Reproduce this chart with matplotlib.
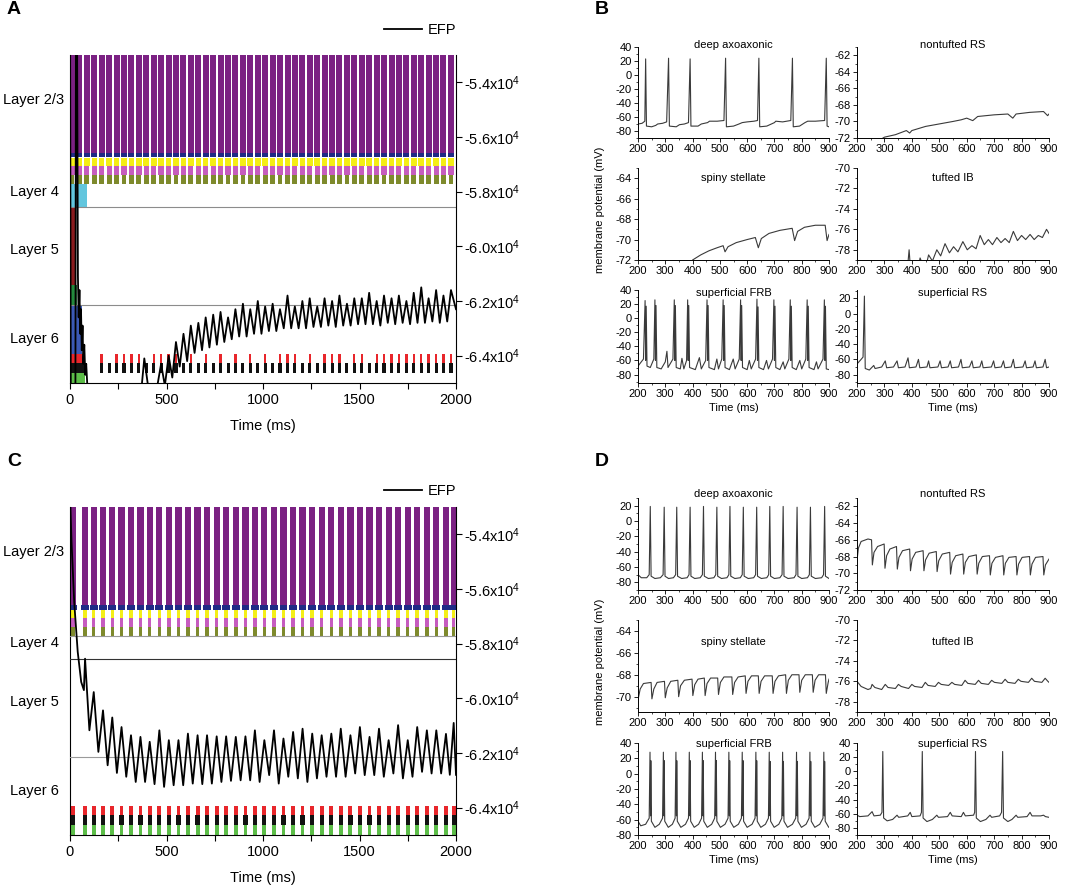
import numpy as np
import matplotlib
matplotlib.use("Agg")
import matplotlib.pyplot as plt
from matplotlib.ticker import MultipleLocator, FuncFormatter
from matplotlib.lines import Line2D

plt.rcParams['font.family'] = ['Liberation Sans', 'DejaVu Sans']
plt.rcParams['mathtext.default'] = 'regular'
plt.rcParams['axes.unicode_minus'] = False

W, H = 1084, 890

# ---------------- raster populations (top to bottom) ----------------
pop_sizes = [1000, 50, 90, 90, 90, 240, 800, 200, 500, 100, 100, 100]
pop_colors = ['#7b2183', '#1f2a86', '#f4ee16', '#c65cbf', '#7e8a2c', '#62c6de',
              '#8a1b1e', '#23883c', '#3b59b5', '#e8262b', '#111111', '#5cbd48']

# burst times (ms) read from the rasters
a_bursts = [10, 48, 87, 126, 164, 203, 241, 280, 318, 357,
            395, 434, 472, 511, 549, 588, 626, 665, 703, 742,
            780, 819, 857, 896, 934, 973, 1011, 1050, 1088, 1127,
            1165, 1204, 1242, 1281, 1319, 1358, 1396, 1435, 1473, 1512,
            1550, 1589, 1627, 1666, 1704, 1743, 1781, 1820, 1858, 1897,
            1935, 1974]
a_red_cols = [164, 241, 280, 318, 357, 434, 472, 511, 549, 626, 703, 780, 857,
              934, 1011, 1088, 1127, 1165, 1242, 1319, 1358, 1396, 1473, 1512,
              1589, 1627, 1666, 1704, 1743, 1781, 1820, 1858, 1897, 1935, 1974]
# early activity (ms) per population in A, 0 = none
a_early_end = [0, 0, 0, 0, 0, 90, 30, 35, 60, 80, 88, 80]

c_bursts = [16, 78, 123, 171, 219, 267, 316, 365, 413, 463, 512,
            562, 611, 661, 710, 760, 809, 859, 909, 958, 1007,
            1057, 1106, 1156, 1205, 1255, 1304, 1354, 1403, 1453, 1502,
            1552, 1601, 1651, 1700, 1750, 1799, 1849, 1898, 1948, 1988]

# ---------------- EFP traces ----------------
efp_a_pre_t = [0, 4, 28, 31, 36, 41, 45, 49, 53, 57, 61, 65, 69, 74, 79, 84,
               92, 120, 250, 365, 385, 408, 430, 455]
efp_a_pre_v = [-51000, -65600, -65600, -51000, -51000, -61100, -62600, -61600,
               -63200, -62300, -63800, -62900, -64300, -63600, -64700, -64300,
               -65400, -67000, -68000, -65600, -64100, -65300, -65400, -65000]
efp_a_peak_v = [-64300, -64000, -63500, -63200, -62900, -62800, -62600, -62500, -62400, -62600,
                -62300, -62100, -62300, -62000, -62200, -62100, -62300, -61800, -62200, -62000,
                -61900, -62200, -61900, -62000, -61800, -62100, -61900, -61900, -61700, -62000,
                -61800, -61900, -61800, -62000, -61700, -61500, -61900, -61600, -61800, -61600]
efp_a_trough_v = [-65100, -64800, -64400, -64200, -63900, -63800, -63700, -63600, -63500, -63400,
                  -63300, -63300, -63200, -63200, -63100, -63100, -63000, -63000, -63000, -63000,
                  -62950, -62950, -62900, -62950, -62900, -62900, -62850, -62850, -62850, -62900,
                  -62800, -62850, -62800, -62850, -62800, -62800, -62750, -62800, -62750]
efp_a_end = (2000, -62300)

efp_c_pre_t = [0, 8, 22, 40, 58, 72]
efp_c_pre_v = [-52500, -54300, -56500, -58300, -59400, -59700]
efp_c_peak_v = [-58550, -59770, -60440, -60700, -61050, -61350, -61410, -61590, -61170, -61530,
                -61530, -61290, -61350, -61350, -61390, -61390, -61410, -61390, -61170, -61530,
                -61170, -61470, -61230, -61110, -61290, -61350, -61290, -61110, -61350, -61050,
                -61410, -61110, -61530, -60980, -61530, -61050, -61170, -61170, -61300, -60900]
efp_c_trough_v = [-61170, -61960, -62450, -62730, -62870, -63060, -63060, -63140, -63240, -63180,
                  -63180, -63120, -63140, -63120, -63060, -63020, -63000, -63000, -63060, -62810,
                  -63120, -62870, -62930, -63060, -62930, -62870, -62870, -62870, -62750, -62810,
                  -62810, -62870, -62750, -62930, -62870, -62690, -62750, -62750, -62800]
efp_c_end = (2000, -62800)

# ---------------- single cell traces (t ms, V mV) ----------------
b_axo = [(200, -70), (215, -69), (225, -66), (228, 23), (231, -73), (250, -74), (265, -72), (272, -70),
         (290, -69), (305, -67), (312, 24), (315, -73), (340, -74), (352, -71), (370, -70), (385, -68),
         (391, 23), (394, -73), (420, -73), (432, -70), (455, -68), (462, -66), (490, -66), (515, -65),
         (521, 24), (524, -74), (550, -73), (570, -70), (582, -68), (600, -67), (625, -66), (638, -65),
         (643, 24), (646, -74), (672, -73), (700, -68), (705, -66), (730, -67), (760, -65), (766, 24),
         (769, -74), (792, -73), (812, -68), (822, -66), (850, -66), (884, -65), (890, 24), (893, -73),
         (900, -74)]
b_ntrs = [(200, -72.1), (290, -72.1), (300, -71.9), (340, -71.6), (380, -71.1), (392, -71.4),
          (400, -71.1), (450, -70.6), (500, -70.3), (550, -70.0), (580, -69.8), (600, -69.6),
          (622, -69.9), (640, -69.4), (700, -69.2), (750, -69.1), (768, -69.6), (780, -69.1),
          (830, -68.9), (880, -68.8), (895, -69.3), (900, -69.1)]
b_ss = [(200, -72.3), (395, -72.3), (400, -72.0), (430, -71.5), (460, -71.1), (490, -70.8),
        (512, -70.6), (519, -71.2), (530, -70.7), (560, -70.3), (600, -70.0), (630, -69.8),
        (641, -70.8), (652, -69.9), (680, -69.4), (720, -69.1), (765, -68.9), (774, -70.1),
        (785, -69.2), (810, -68.8), (850, -68.6), (886, -68.6), (893, -70.1), (900, -69.5)]
b_tib = [(200, -79.5), (385, -79.5), (390, -78.0), (394, -79.5), (425, -79.5), (430, -78.8),
         (440, -79.5), (455, -79.2), (461, -78.5), (475, -79.1), (491, -78.0), (505, -78.6),
         (521, -77.4), (537, -78.3), (552, -77.7), (568, -78.2), (586, -77.2), (602, -78.0),
         (619, -77.6), (634, -77.9), (649, -76.6), (664, -77.5), (679, -77.0), (694, -77.5),
         (710, -76.8), (725, -77.3), (740, -76.9), (755, -77.3), (770, -76.2), (785, -77.1),
         (800, -76.6), (815, -77.0), (831, -76.5), (846, -77.0), (861, -76.6), (876, -76.8),
         (891, -76.0), (900, -76.4)]
b_frb = [(200, -68), (220, -58), (226, 25), (228, -60), (230, 17), (233, -68), (245, -70), (258, -58),
         (262, 26), (264, -60), (266, 18), (269, -70), (285, -72), (300, -62), (306, -47), (310, -70),
         (328, -58), (333, 26), (335, -60), (337, 18), (340, -70), (355, -72), (361, -57), (368, -72),
         (378, -60), (382, 26), (384, -60), (386, 18), (389, -70), (410, -73), (425, -56), (432, -72),
         (448, -60), (453, 26), (455, -60), (457, 18), (460, -70), (480, -73), (489, -58), (495, -72),
         (507, -58), (512, 26), (514, -60), (516, 18), (519, -70), (535, -73), (549, -58), (556, -72),
         (571, -58), (576, 26), (578, -60), (580, 18), (583, -70), (600, -73), (608, -60), (615, -72),
         (631, -58), (636, 27), (638, -60), (640, 16), (643, -70), (660, -73), (671, -60), (678, -72),
         (693, -58), (698, 26), (700, -60), (702, 17), (705, -70), (720, -73), (732, -62), (738, -72),
         (753, -58), (758, 26), (760, -60), (762, 17), (765, -70), (780, -73), (793, -60), (800, -72),
         (815, -58), (820, 26), (822, -60), (824, 17), (827, -70), (845, -73), (854, -62), (860, -72),
         (878, -58), (883, 26), (885, -60), (887, 17), (890, -72), (900, -73)]
b_srs = [(200, -66), (215, -60), (222, -57), (227, 23), (230, -72), (245, -74), (261, -68), (266, -72),
         (290, -70), (303, -62), (308, -71), (333, -70), (346, -62), (351, -71), (375, -70), (386, -58),
         (391, -71), (415, -70), (424, -60), (429, -71), (455, -70), (461, -62), (466, -71), (495, -70),
         (503, -62), (508, -71), (532, -70), (540, -62), (545, -71), (570, -70), (579, -60), (584, -71),
         (610, -70), (619, -62), (624, -71), (648, -70), (655, -62), (660, -71), (690, -70), (698, -62),
         (703, -71), (726, -70), (734, -62), (739, -71), (762, -70), (770, -60), (775, -71), (805, -70),
         (813, -62), (818, -71), (842, -70), (849, -62), (854, -71), (878, -70), (886, -60), (891, -71),
         (900, -70)]

d_axo = [(200, -70), (212, -74), (232, -74), (241, -70), (245, 19), (248, -72), (262, -75), (282, -74),
         (292, -70), (296, 18), (299, -72), (312, -75), (330, -74), (338, -70), (342, 18), (345, -72),
         (360, -75), (380, -74), (387, -70), (391, 18), (394, -72), (408, -75), (428, -74), (436, -70),
         (440, 19), (443, -72), (458, -75), (478, -74), (485, -70), (489, 18), (492, -72), (506, -75),
         (526, -74), (533, -70), (537, 19), (540, -72), (555, -75), (575, -74), (582, -70), (586, 18),
         (589, -72), (604, -75), (624, -74), (631, -70), (635, 18), (638, -72), (652, -75), (672, -74),
         (679, -70), (683, 19), (686, -72), (700, -75), (720, -74), (728, -70), (732, 19), (735, -72),
         (750, -75), (772, -74), (779, -70), (783, 18), (786, -72), (800, -75), (821, -74), (828, -70),
         (832, 18), (835, -72), (850, -75), (873, -74), (880, -70), (884, 19), (887, -72), (900, -75)]
d_ntrs = [(200, -68.5), (205, -67), (215, -66.2), (240, -65.9), (253, -66), (256, -69.0), (262, -67.5),
          (275, -66.8), (299, -66.5), (302, -69.4), (308, -67.9), (320, -67.1), (344, -66.8), (347, -69.5),
          (353, -68.1), (366, -67.3), (392, -67.1), (395, -69.7), (401, -68.3), (414, -67.5), (441, -67.3),
          (444, -69.7), (450, -68.4), (463, -67.6), (489, -67.4), (492, -69.8), (498, -68.5), (511, -67.7),
          (538, -67.5), (541, -70.1), (547, -68.7), (560, -67.9), (586, -67.7), (589, -70.1), (595, -68.7),
          (608, -68.0), (635, -67.8), (638, -70.1), (644, -68.8), (657, -68.0), (683, -67.9), (686, -70.2),
          (692, -68.8), (705, -68.1), (732, -67.9), (735, -70.2), (741, -68.8), (754, -68.1), (780, -68.0),
          (783, -70.2), (789, -68.9), (802, -68.1), (829, -68.0), (832, -70.2), (838, -68.9), (851, -68.1),
          (878, -68.0), (881, -70.2), (887, -69.0), (900, -68.3)]
d_ss = [(200, -70.3), (208, -69.3), (220, -68.8), (248, -68.7), (251, -70.2), (258, -69.3), (270, -68.7),
        (297, -68.6), (300, -70.1), (307, -69.2), (320, -68.6), (346, -68.5), (349, -70.0), (356, -69.0),
        (370, -68.5), (398, -68.4), (401, -69.9), (408, -68.9), (420, -68.4), (443, -68.3), (446, -69.9),
        (453, -68.8), (466, -68.3), (492, -68.3), (495, -69.8), (502, -68.7), (515, -68.2), (544, -68.2),
        (547, -69.8), (554, -68.7), (567, -68.2), (593, -68.1), (596, -69.7), (603, -68.6), (616, -68.1),
        (641, -68.1), (644, -69.7), (651, -68.6), (664, -68.1), (692, -68.1), (695, -69.7), (702, -68.6),
        (715, -68.1), (741, -68.0), (744, -69.7), (751, -68.5), (764, -68.0), (790, -68.0), (793, -69.6),
        (800, -68.5), (813, -68.0), (839, -68.0), (842, -69.6), (849, -68.5), (862, -68.0), (887, -68.0),
        (890, -69.7), (897, -68.7), (900, -68.4)]
d_tib = [(200, -76.0), (215, -76.5), (240, -76.8), (250, -76.7), (255, -76.3), (265, -76.6), (290, -76.8),
         (303, -76.3), (313, -76.6), (340, -76.7), (351, -76.3), (361, -76.5), (388, -76.7), (400, -76.3),
         (410, -76.5), (437, -76.6), (449, -76.1), (459, -76.4), (485, -76.5), (497, -76.1), (507, -76.3),
         (534, -76.4), (546, -76.1), (556, -76.3), (582, -76.4), (594, -75.9), (604, -76.2), (631, -76.3),
         (643, -75.9), (653, -76.2), (679, -76.3), (691, -75.9), (701, -76.1), (728, -76.2), (740, -75.8),
         (750, -76.1), (776, -76.2), (788, -75.8), (798, -76.0), (825, -76.1), (837, -75.7), (847, -76.0),
         (874, -76.1), (886, -75.7), (896, -76.0), (900, -76.1)]
d_frb = [(200, -62), (210, -68), (228, -66), (241, -58), (244, 28), (246, -55), (247, 17), (249, -62),
         (262, -70), (278, -66), (290, -58), (293, 28), (295, -55), (296, 17), (298, -62), (311, -70),
         (326, -66), (336, -58), (339, 28), (341, -55), (342, 17), (344, -62), (357, -70), (374, -66),
         (385, -58), (388, 28), (390, -55), (391, 17), (393, -62), (406, -70), (422, -66), (433, -58),
         (436, 28), (438, -55), (439, 17), (441, -62), (454, -70), (470, -66), (481, -58), (484, 28),
         (486, -55), (487, 17), (489, -62), (502, -70), (519, -66), (530, -58), (533, 28), (535, -55),
         (536, 17), (538, -62), (551, -70), (568, -66), (579, -58), (582, 28), (584, -55), (585, 17),
         (587, -62), (600, -70), (618, -66), (629, -58), (632, 28), (634, -55), (635, 17), (637, -62),
         (650, -70), (667, -66), (678, -58), (681, 28), (683, -55), (684, 16), (686, -62), (699, -70),
         (716, -66), (727, -58), (730, 28), (732, -55), (733, 16), (735, -62), (748, -70), (766, -66),
         (778, -58), (781, 28), (783, -55), (784, 16), (786, -62), (799, -70), (816, -66), (827, -58),
         (830, 28), (832, -55), (833, 16), (835, -62), (848, -70), (866, -66), (878, -58), (881, 28),
         (883, -55), (884, 16), (886, -62), (899, -70), (900, -70)]
d_srs = [(200, -62), (210, -64), (240, -63), (255, -57), (262, -63), (285, -62), (291, -58), (294, 28),
         (297, -66), (310, -70), (330, -68), (346, -62), (352, -65), (385, -63), (394, -58), (400, -64),
         (430, -63), (435, -58), (438, 28), (441, -66), (455, -71), (475, -68), (491, -62), (497, -65),
         (530, -64), (540, -58), (547, -63), (580, -64), (588, -58), (595, -63), (625, -62), (629, -58),
         (632, 28), (635, -66), (650, -71), (670, -68), (685, -62), (691, -65), (720, -63), (727, -58),
         (731, 28), (734, -66), (750, -71), (765, -68), (780, -62), (786, -65), (820, -64), (831, -58),
         (838, -63), (870, -63), (880, -62), (887, -64), (900, -65)]

cell_titles = ['deep axoaxonic', 'nontufted RS', 'spiny stellate', 'tufted IB',
               'superficial FRB', 'superficial RS']
b_traces = [b_axo, b_ntrs, b_ss, b_tib, b_frb, b_srs]
d_traces = [d_axo, d_ntrs, d_ss, d_tib, d_frb, d_srs]
b_ylims = [(-90, 40), (-72, -61), (-72, -63), (-79, -70), (-92, 40), (-91, 31)]
d_ylims = [(-90, 30), (-72, -61), (-71.4, -63), (-79, -70), (-80, 40), (-90, 40)]
ysteps = [20, 2, 2, 2, 20, 20]


def px_axes(fig, x0, y0, x1, y1):
    return fig.add_axes([x0 / W, 1 - y1 / H, (x1 - x0) / W, (y1 - y0) / H])


def efp_cycles(peak_t, peak_v, trough_v):
    t, v = [], []
    for i in range(len(peak_t)):
        t.append(peak_t[i])
        v.append(peak_v[i])
        if i + 1 < len(peak_t) and i < len(trough_v):
            t.append((peak_t[i] + peak_t[i + 1]) / 2)
            v.append(trough_v[i])
    return t, v


def raster_panel(fig, box, pop_bursts, widths, early_end, hlines, efp_t, efp_v, legend_y):
    ax = px_axes(fig, *box)
    starts = np.concatenate([[0], np.cumsum(pop_sizes)[:-1]])
    for i in range(len(pop_sizes)):
        if len(pop_bursts[i]) > 0:
            ax.bar(pop_bursts[i], pop_sizes[i], width=widths[i], bottom=starts[i],
                   color=pop_colors[i], linewidth=0, align='center')
        if early_end[i] > 0:
            ax.bar(early_end[i] / 2, pop_sizes[i], width=early_end[i], bottom=starts[i],
                   color=pop_colors[i], linewidth=0)
    for yv, col in hlines:
        ax.axhline(yv, color=col, lw=0.8, zorder=3)
    ax.set_xlim(0, 2000)
    ax.set_ylim(sum(pop_sizes), 0)
    ax.set_yticks([])
    ax.set_xticks([0, 500, 1000, 1500, 2000])
    ax.xaxis.set_minor_locator(MultipleLocator(250))
    ax.tick_params(axis='x', which='both', direction='out', length=4, width=0.8, labelsize=10.5, pad=3)
    ax.spines['top'].set_visible(False)
    ax.spines['right'].set_visible(False)
    ax.spines['left'].set_linewidth(0.8)
    ax.spines['bottom'].set_linewidth(0.8)
    ax.set_xlabel('Time (ms)', fontsize=10.5, labelpad=9)

    ax2 = ax.twinx()
    ax2.plot(efp_t, efp_v, color='black', lw=1.3)
    ax2.set_ylim(-65000, -53000)
    ax2.set_yticks([-54000, -56000, -58000, -60000, -62000, -64000])
    ax2.yaxis.set_major_formatter(FuncFormatter(lambda v, p: '%.1fx10$^4$' % (v / 1e4)))
    ax2.tick_params(axis='y', direction='out', length=4, width=0.8, labelsize=10.5, pad=2)
    for s in ['top', 'left', 'bottom']:
        ax2.spines[s].set_visible(False)
    ax2.spines['right'].set_linewidth(0.8)
    handle = Line2D([], [], color='black', lw=1.3)
    ax2.legend([handle], ['EFP'], loc='center right', frameon=False, fontsize=10.5,
               handlelength=2.6, handletextpad=0.4, borderpad=0, borderaxespad=0,
               bbox_to_anchor=(box[2] / W, 1 - legend_y / H), bbox_transform=fig.transFigure)
    return ax


def trace_panel(fig, top, traces, ylims, title_offs):
    cols = [(638, 829), (857, 1049)]
    for k in range(6):
        r, c = divmod(k, 2)
        x0, x1 = cols[c]
        y0, y1 = top[r]
        ax = px_axes(fig, x0, y0, x1, y1)
        t, v = zip(*traces[k])
        ax.plot(t, v, color='#3a3a3a', lw=0.8)
        ax.set_xlim(200, 900)
        ax.set_ylim(*ylims[k])
        ax.xaxis.set_major_locator(MultipleLocator(100))
        ax.xaxis.set_minor_locator(MultipleLocator(50))
        ax.yaxis.set_major_locator(MultipleLocator(ysteps[k]))
        ax.yaxis.set_minor_locator(MultipleLocator(ysteps[k] / 2))
        ax.spines['top'].set_visible(False)
        ax.spines['right'].set_visible(False)
        for s in ['left', 'bottom']:
            ax.spines[s].set_linewidth(0.7)
        ax.tick_params(which='major', direction='out', length=3, width=0.6, labelsize=8, pad=1.5)
        ax.tick_params(which='minor', direction='out', length=1.5, width=0.5)
        ax.text(0.5, 1 - title_offs[r] / (y1 - y0), cell_titles[k], transform=ax.transAxes,
                ha='center', va='center', fontsize=8)
        if r == 2:
            ax.set_xlabel('Time (ms)', fontsize=8, labelpad=3)


fig = plt.figure(figsize=(W / 100, H / 100), dpi=100)

# panel A
a_pop_bursts = [a_bursts] * 5 + [[]] * 4 + [a_red_cols, [b for b in a_bursts if b >= 150], []]
a_widths = [31, 31, 29, 27, 25, 0, 0, 0, 0, 12, 16, 0]
a_t, a_v = efp_cycles([b for b in a_bursts if b >= 472], efp_a_peak_v, efp_a_trough_v)
efp_a_t = efp_a_pre_t + a_t + [efp_a_end[0]]
efp_a_v = efp_a_pre_v + a_v + [efp_a_end[1]]
raster_panel(fig, (70, 55, 456, 383), a_pop_bursts, a_widths, a_early_end,
             [(1560, '#8c8c8c'), (2560, '#8c8c8c')], efp_a_t, efp_a_v, 30)

# panel C
c_pop_bursts = [c_bursts] * 5 + [[]] * 4 + [c_bursts] * 3
c_widths = [32, 40, 18, 18, 18, 0, 0, 0, 0, 20, 22, 20]
c_t, c_v = efp_cycles(c_bursts[1:], efp_c_peak_v, efp_c_trough_v)
efp_c_t = efp_c_pre_t + c_t + [efp_c_end[0]]
efp_c_v = efp_c_pre_v + c_v + [efp_c_end[1]]
raster_panel(fig, (70, 507, 456, 835), c_pop_bursts, c_widths, [0] * 12,
             [(1320, '#9a9a9a'), (1560, '#333333'), (2560, '#9a9a9a')], efp_c_t, efp_c_v, 491)

layer_labels = ['Layer 2/3', 'Layer 4', 'Layer 5', 'Layer 6']
for ys in ([100, 192, 250, 339], [552, 643, 702, 791]):
    for lab, y in zip(layer_labels, ys):
        fig.text(34 / W, 1 - y / H, lab, ha='center', va='center', fontsize=10.5)

# panels B and D
trace_panel(fig, [(47, 138), (168, 260), (290, 383)], b_traces, b_ylims, [-2.5, 10, 3])
trace_panel(fig, [(498, 590), (620, 712), (743, 835)], d_traces, d_ylims, [-4, 22, 1])
for y in (210, 662):
    fig.text(600 / W, 1 - y / H, 'membrane potential (mV)', rotation=90,
             ha='center', va='center', fontsize=8)

for lab, x, y in [('A', 7, 10), ('B', 595, 10), ('C', 7, 461), ('D', 595, 462)]:
    fig.text(x / W, 1 - y / H, lab, ha='left', va='center', fontsize=14, fontweight='bold')

fig.savefig('out.png', dpi=100)
